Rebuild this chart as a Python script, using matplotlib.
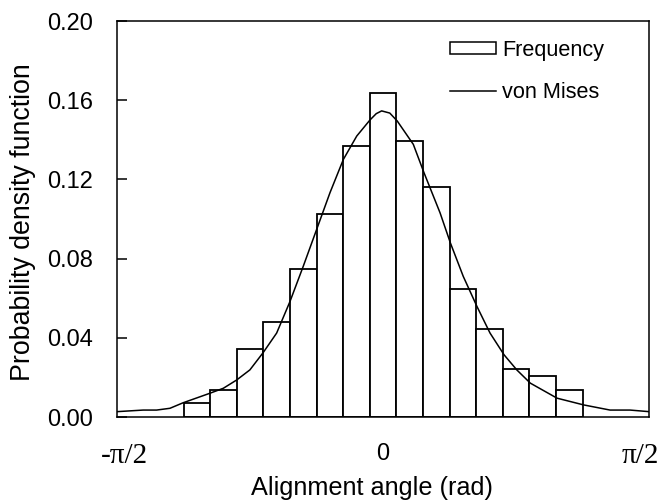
import numpy as np
import matplotlib.pyplot as plt
from matplotlib.patches import Patch
from matplotlib.lines import Line2D
from matplotlib.transforms import ScaledTranslation

plt.rcParams['font.family'] = ['Liberation Sans', 'DejaVu Sans']

# histogram: 15 bins of width pi/20 centred on k*pi/20, k=-7..7
bin_k = np.arange(-7, 8)
freq = [0.0072, 0.0137, 0.0343, 0.0478, 0.0748, 0.1026, 0.1367, 0.1637,
        0.1394, 0.1161, 0.0648, 0.0444, 0.0243, 0.0209, 0.0135]

# von Mises fit (angle in rad, density)
vm_x = [-1.571, -1.416, -1.337, -1.258, -1.180, -1.022, -0.943, -0.864, -0.786,
        -0.707, -0.628, -0.549, -0.471, -0.392, -0.313, -0.234, -0.155, -0.077,
        -0.040, -0.008, 0.040, 0.084, 0.179, 0.242, 0.337, 0.398, 0.474, 0.555,
        0.632, 0.715, 0.790, 0.870, 1.028, 1.185, 1.341, 1.459, 1.571]
vm_y = [0.0027, 0.0035, 0.0035, 0.0044, 0.0072, 0.0120, 0.0145, 0.0187, 0.0238,
        0.0326, 0.0424, 0.0584, 0.0761, 0.0947, 0.1133, 0.1301, 0.1419, 0.1500,
        0.1532, 0.1546, 0.1535, 0.1495, 0.1377, 0.1234, 0.1031, 0.0879, 0.0710,
        0.0558, 0.0424, 0.0314, 0.0238, 0.0171, 0.0095, 0.0061, 0.0035, 0.0035,
        0.0027]

fig = plt.figure(figsize=(6.59, 5.04), dpi=100)
ax = fig.add_axes([117/659, 87/504, 532/659, 396/504])

w = np.pi / 20
ax.bar(bin_k * w, freq, width=w, facecolor='white', edgecolor='black', linewidth=1.3)
ax.plot(vm_x, vm_y, color='black', linewidth=1.1)

ax.set_xlim(-np.pi/2, np.pi/2)
ax.set_ylim(0, 0.2)
yt = np.arange(0, 0.201, 0.04)
ax.set_yticks(yt)
ax.set_yticklabels([f'{v:.2f}' for v in yt])
ax.tick_params(axis='y', direction='in', length=7, width=1.1, labelsize=17, pad=17)

ax.set_xticks([-np.pi/2, 0, np.pi/2])
ax.set_xticklabels(['-π/2', '0', 'π/2'])
ax.tick_params(axis='x', length=0, labelsize=17, pad=19)
labs = ax.get_xticklabels()
for i, dx in [(0, 7), (2, -9)]:
    labs[i].set_family('Liberation Serif')
    labs[i].set_fontsize(21)
    labs[i].set_transform(labs[i].get_transform() + ScaledTranslation(dx/100, 0, fig.dpi_scale_trans))

for s in ax.spines.values():
    s.set_linewidth(1.1)

ax.set_xlabel('Alignment angle (rad)', fontsize=18.2)
ax.xaxis.set_label_coords(0.479, -0.148)
ax.set_ylabel('Probability density function', fontsize=19.3)
ax.yaxis.set_label_coords(-0.152, 0.491)

handles = [Patch(facecolor='white', edgecolor='black', linewidth=1.1),
           Line2D([], [], color='black', linewidth=1.1)]
ax.legend(handles, ['Frequency', 'von Mises'], loc='upper left',
          bbox_to_anchor=(0.626, 0.952), frameon=False, fontsize=15.6,
          borderpad=0, borderaxespad=0, handlelength=2.1, handleheight=0.45,
          handletextpad=0.3, labelspacing=0.95)

fig.savefig('out.png', dpi=100)
